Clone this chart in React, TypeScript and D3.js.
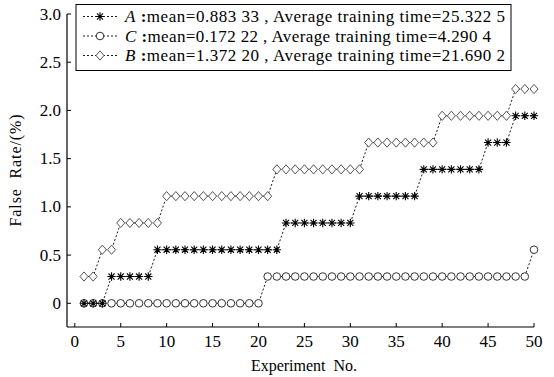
import * as d3 from "d3";

const experiments = [
  1, 2, 3, 4, 5, 6, 7, 8, 9, 10, 11, 12, 13, 14, 15, 16, 17, 18, 19, 20, 21, 22, 23, 24, 25,
  26, 27, 28, 29, 30, 31, 32, 33, 34, 35, 36, 37, 38, 39, 40, 41, 42, 43, 44, 45, 46, 47, 48, 49, 50,
];

const seriesA = [
  0, 0, 0, 0.2778, 0.2778, 0.2778, 0.2778, 0.2778,
  0.5556, 0.5556, 0.5556, 0.5556, 0.5556, 0.5556, 0.5556, 0.5556, 0.5556, 0.5556, 0.5556, 0.5556, 0.5556, 0.5556,
  0.8333, 0.8333, 0.8333, 0.8333, 0.8333, 0.8333, 0.8333, 0.8333,
  1.1111, 1.1111, 1.1111, 1.1111, 1.1111, 1.1111, 1.1111,
  1.3889, 1.3889, 1.3889, 1.3889, 1.3889, 1.3889, 1.3889,
  1.6667, 1.6667, 1.6667,
  1.9444, 1.9444, 1.9444,
];
const seriesC = [
  0, 0, 0, 0, 0, 0, 0, 0, 0, 0, 0, 0, 0, 0, 0, 0, 0, 0, 0, 0,
  0.2778, 0.2778, 0.2778, 0.2778, 0.2778, 0.2778, 0.2778, 0.2778, 0.2778, 0.2778,
  0.2778, 0.2778, 0.2778, 0.2778, 0.2778, 0.2778, 0.2778, 0.2778, 0.2778, 0.2778,
  0.2778, 0.2778, 0.2778, 0.2778, 0.2778, 0.2778, 0.2778, 0.2778, 0.2778,
  0.5556,
];
const seriesB = [
  0.2778, 0.2778, 0.5556, 0.5556,
  0.8333, 0.8333, 0.8333, 0.8333, 0.8333,
  1.1111, 1.1111, 1.1111, 1.1111, 1.1111, 1.1111, 1.1111, 1.1111, 1.1111, 1.1111, 1.1111, 1.1111,
  1.3889, 1.3889, 1.3889, 1.3889, 1.3889, 1.3889, 1.3889, 1.3889, 1.3889, 1.3889,
  1.6667, 1.6667, 1.6667, 1.6667, 1.6667, 1.6667, 1.6667, 1.6667,
  1.9444, 1.9444, 1.9444, 1.9444, 1.9444, 1.9444, 1.9444, 1.9444,
  2.2222, 2.2222, 2.2222,
];

const legendNames = ["A", "C", "B"];
const legendMeans = ["0.883 33", "0.172 22", "1.372 20"];
const legendTimes = ["25.322 5", "4.290 4", "21.690 2"];

const xTicks = [0, 5, 10, 15, 20, 25, 30, 35, 40, 45, 50];
const yTicks = [0, 0.5, 1.0, 1.5, 2.0, 2.5, 3.0];
const yTickLabels = ["0", "0.5", "1.0", "1.5", "2.0", "2.5", "3.0"];

const W = 554;
const H = 377;
const axisLeft = 67;
const axisBottom = 327;
const font = "'Liberation Serif', 'Times New Roman', serif";

const x = d3.scaleLinear().domain([0, 50]).range([74.8, 534]);
const y = d3.scaleLinear().domain([0, 3]).range([303.3, 14]);

const line = d3
  .line<number>()
  .x((_, i) => x(experiments[i]))
  .y((d) => y(d));

function Asterisk({ cx, cy }: { cx: number; cy: number }) {
  const s = 4.2;
  const d = s * 0.72;
  return (
    <path
      transform={`translate(${cx},${cy})`}
      d={`M${-s},0L${s},0M0,${-s}L0,${s}M${-d},${-d}L${d},${d}M${-d},${d}L${d},${-d}`}
      stroke="#000"
      strokeWidth={1.1}
      fill="none"
    />
  );
}

function Circle({ cx, cy }: { cx: number; cy: number }) {
  return <circle cx={cx} cy={cy} r={3.8} fill="#fff" stroke="#333" strokeWidth={1} />;
}

function Diamond({ cx, cy }: { cx: number; cy: number }) {
  return (
    <path
      transform={`translate(${cx},${cy})`}
      d="M0,-4.6L4,0L0,4.6L-4,0Z"
      fill="#fff"
      stroke="#555"
      strokeWidth={1}
    />
  );
}

const markers = { A: Asterisk, C: Circle, B: Diamond } as const;
const seriesData: Record<string, number[]> = { A: seriesA, C: seriesC, B: seriesB };
const drawOrder = ["B", "C", "A"];
const legendWidths = [380, 366, 380];

export default function App() {
  return (
    <svg
      width={W}
      height={H}
      style={{ position: "absolute", left: 0, top: 0, background: "#fff" }}
      fontFamily={font}
    >
      <rect width={W} height={H} fill="#fff" />

      {/* axes */}
      <line x1={axisLeft} x2={axisLeft} y1={y(3)} y2={axisBottom} stroke="#000" strokeWidth={1.2} />
      <line x1={axisLeft} x2={x(50)} y1={axisBottom} y2={axisBottom} stroke="#000" strokeWidth={1.2} />
      {xTicks.map((t) => (
        <g key={t}>
          <line x1={x(t)} x2={x(t)} y1={axisBottom} y2={axisBottom - 4} stroke="#000" strokeWidth={1} />
          <text x={x(t)} y={axisBottom + 20} textAnchor="middle" fontSize={17}>
            {t}
          </text>
        </g>
      ))}
      {yTicks.map((t, i) => (
        <g key={t}>
          <line x1={axisLeft} x2={axisLeft + 4} y1={y(t)} y2={y(t)} stroke="#000" strokeWidth={1} />
          <text x={axisLeft - 6} y={y(t) + 5.5} textAnchor="end" fontSize={17}>
            {yTickLabels[i]}
          </text>
        </g>
      ))}
      <text x={304} y={371} textAnchor="middle" fontSize={16}>
        Experiment&#160;&#160;No.
      </text>
      <text
        transform={`translate(21,${(y(3) + axisBottom) / 2}) rotate(-90)`}
        textAnchor="middle"
        fontSize={16}
        textLength={112}
        lengthAdjust="spacing"
      >
        False&#160;&#160;Rate/(%)
      </text>

      {/* series */}
      {drawOrder.map((k) => {
        const M = markers[k as keyof typeof markers];
        const data = seriesData[k];
        return (
          <g key={k}>
            <path d={line(data) ?? ""} fill="none" stroke="#000" strokeWidth={0.9} strokeDasharray="2,2" />
            {data.map((v, i) => (
              <M key={i} cx={x(experiments[i])} cy={y(v)} />
            ))}
          </g>
        );
      })}

      {/* legend */}
      <rect x={76} y={4.5} width={435} height={66} fill="#fff" stroke="#000" strokeWidth={1} />
      {legendNames.map((n, i) => {
        const cy = 16.5 + i * 19.5;
        const M = markers[n as keyof typeof markers];
        return (
          <g key={n}>
            <line x1={83} x2={118} y1={cy} y2={cy} stroke="#000" strokeWidth={0.9} strokeDasharray="2,2" />
            <M cx={100} cy={cy} />
            <text x={125} y={cy + 5.5} fontSize={17} textLength={legendWidths[i]} lengthAdjust="spacing">
              <tspan fontStyle="italic">{n}</tspan>
              <tspan fontWeight="bold"> :</tspan>
              <tspan>{`mean=${legendMeans[i]} , Average training time=${legendTimes[i]}`}</tspan>
            </text>
          </g>
        );
      })}
    </svg>
  );
}
